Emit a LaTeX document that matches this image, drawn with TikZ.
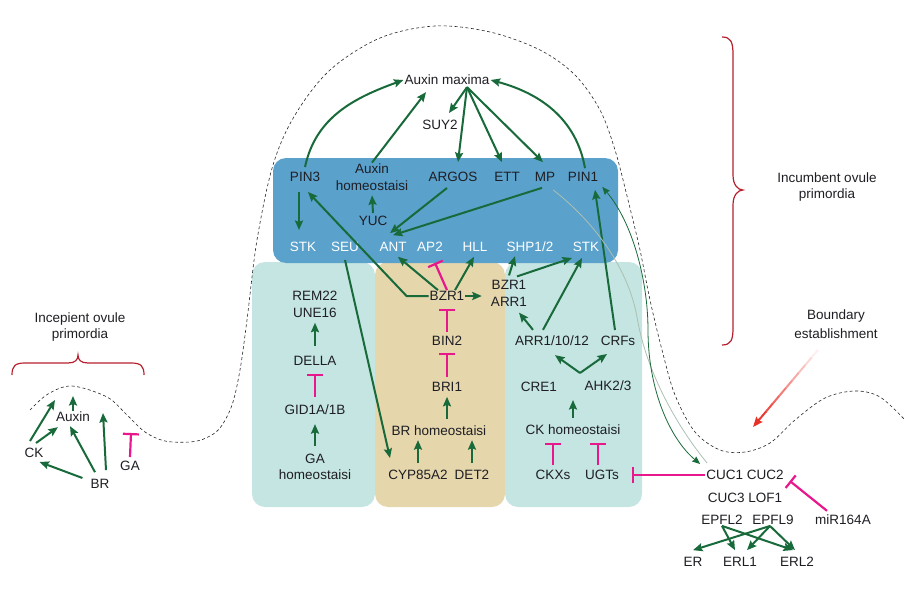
\documentclass[tikz,border=0pt]{standalone}
\usepackage{fontspec}
\setmainfont{Liberation Sans}
\usetikzlibrary{arrows.meta,calc}
\definecolor{dg}{RGB}{24,106,58}
\definecolor{mg}{RGB}{232,24,140}
\definecolor{bx}{RGB}{90,161,204}
\definecolor{tl}{RGB}{196,229,225}
\definecolor{tn}{RGB}{229,214,172}
\definecolor{rb}{RGB}{181,32,46}
\definecolor{tx}{RGB}{30,30,36}
\definecolor{ra}{RGB}{232,50,40}
\definecolor{faint}{RGB}{172,192,178}
\begin{document}
\begin{tikzpicture}[x=1pt,y=-1pt,
  lbl/.style={inner sep=1pt, text=tx, font=\fontsize{13.5}{16.5}\selectfont, align=center},
  wl/.style={lbl, text=white},
  act/.style={draw=dg, line width=2pt, -{Stealth[length=9.5pt,width=8pt,inset=1.5pt]}},
  thinact/.style={draw=dg, line width=0.8pt, {Stealth[length=8pt,width=6.5pt,inset=1pt]}-{Stealth[length=8pt,width=6.5pt,inset=1pt]}},
  inh/.style={draw=mg, line width=2.2pt, -{Bar[width=16pt]}},
  box/.style={rounded corners=13pt},
  brace/.style={draw=rb, line width=1.2pt}
]
\useasboundingbox (0,0) rectangle (922,589);

% ---- background boxes
\fill[tl, box] (252,262) rectangle (375,507);
\fill[tn, box] (375,262) rectangle (505,507);
\fill[tl, box] (505,262) rectangle (642,507);
\fill[bx, box] (273,158) rectangle (618,263);

% ---- dashed outline
\draw[black!85, line width=0.6pt, dash pattern=on 3pt off 2.5pt]
  plot[smooth, tension=0.55] coordinates {(30,410) (48,394) (72,386) (107,397) (127,415) (145,432) (165,441) (190,442) (206,438) (220,428) (232,405) (240,370) (247,320) (257,240) (273,165) (295,115) (330,70) (380,38) (435,26) (490,32) (540,50) (575,75) (600,110) (615,150) (628,200) (640,250) (650,300) (662,350) (675,395) (695,432) (720,450) (745,452) (770,443) (795,420) (825,398) (855,391) (880,397) (905,420)};

% ---- braces
\draw[brace] (12,375) .. controls (12,366) and (15,363) .. (25,363) -- (68,363)
  .. controls (75,363) and (78,360) .. (78,355) .. controls (78,360) and (81,363) .. (88,363)
  -- (131,363) .. controls (141,363) and (144,366) .. (144,375);
\draw[brace] (722,37) .. controls (731,37) and (733,42) .. (733,55) -- (733,175)
  .. controls (733,185) and (738,190) .. (743,190) .. controls (738,190) and (733,195) .. (733,205)
  -- (733,328) .. controls (733,340) and (731,345) .. (722,345);

% ---- labels
\node[lbl] (Incep) at (80,327) {Incepient ovule\\primordia};
\node[lbl] (Incumb) at (827,187) {Incumbent ovule\\primordia};
\node[lbl] (Bound) at (836,324) {Boundary\\[3pt]establishment};

% ---- left cluster
\node[lbl] (Auxin) at (73,417) {Auxin};
\node[lbl] (CK) at (34,453) {CK};
\node[lbl] (BR) at (100,484) {BR};
\node[lbl] (GA) at (130,466) {GA};
\coordinate (cku) at (55,400);
\coordinate (auxu) at (73,396);
\coordinate (bru) at (103,413);
\coordinate (gau) at (131,433);

% ---- top
\node[lbl] (AuxMax) at (447,80) {Auxin maxima};
\node[lbl] (SUY) at (440,125) {SUY2};
\node[lbl] (PINthree) at (305,177) {PIN3};
\node[lbl] (AuxHomeo) at (372,177) {Auxin\\homeostaisi};
\node[lbl] (YUC) at (373,221) {YUC};
\node[lbl] (ARGOS) at (453,177) {ARGOS};
\node[lbl] (ETT) at (507,177) {ETT};
\node[lbl] (MP) at (545,177) {MP};
\node[lbl] (PINone) at (583,177) {PIN1};
\node[wl] (STKa) at (303,247) {STK};
\node[wl] (SEU) at (345,247) {SEU};
\node[wl] (ANT) at (393,247) {ANT};
\node[wl] (APtwo) at (430,247) {AP2};
\node[wl] (HLL) at (475,247) {HLL};
\node[wl] (SHP) at (530,247) {SHP1/2};
\node[wl] (STKb) at (586,247) {STK};

% ---- left teal
\node[lbl] (REM) at (315,304.5) {REM22\\UNE16};
\node[lbl] (DELLA) at (315,361) {DELLA};
\node[lbl] (GID) at (315,410) {GID1A/1B};
\node[lbl] (GAh) at (315,467) {GA\\homeostaisi};

% ---- tan
\node[lbl] (BZRone) at (447,296) {BZR1};
\node[lbl] (BINtwo) at (447,341) {BIN2};
\node[lbl] (BRIone) at (447,387) {BRI1};
\node[lbl] (BRh) at (439,431) {BR homeostaisi};
\node[lbl] (CYP) at (418,475) {CYP85A2};
\node[lbl] (DET) at (472,475) {DET2};

% ---- right teal
\node[lbl] (BZRARR) at (509,293.5) {BZR1\\ARR1};
\node[lbl] (ARRtt) at (552,341) {ARR1/10/12};
\node[lbl] (CRFs) at (618,341) {CRFs};
\node[lbl] (CRE) at (539,387) {CRE1};
\node[lbl] (AHK) at (608,386) {AHK2/3};
\node[lbl] (CKh) at (573,430) {CK homeostaisi};
\node[lbl] (CKXs) at (553,475) {CKXs};
\node[lbl] (UGTs) at (602,475) {UGTs};
\coordinate (vv) at (580,373);
\coordinate (ckup) at (573,400);

% ---- bottom right
\node[lbl] (CUCa) at (745,475) {CUC1 CUC2};
\node[lbl] (CUCb) at (745,498) {CUC3 LOF1};
\node[lbl] (EPFLa) at (722,520) {EPFL2};
\node[lbl] (EPFLb) at (773,520) {EPFL9};
\node[lbl] (miR) at (843,520) {miR164A};
\node[lbl] (ER) at (693,562) {ER};
\node[lbl] (ERLa) at (740,562) {ERL1};
\node[lbl] (ERLb) at (797,562) {ERL2};
\coordinate (cm) at (648,330);
\coordinate (fm) at (637,317);

% ================= connectors
% left cluster
\draw[act] ([xshift=-4pt,yshift=6pt]CK.north) -- (cku);
\draw[act] ([xshift=2pt,yshift=4pt]CK.north) -- ([xshift=3pt,yshift=-4pt]Auxin.south west);
\draw[act] (Auxin.north) -- (auxu);
\draw[act] ([xshift=-5pt,yshift=6pt]BR.north) -- ([xshift=-3pt,yshift=-3pt]Auxin.south);
\draw[act] ([xshift=6pt,yshift=8pt]BR.north) -- (bru);
\draw[act] ([xshift=-7pt,yshift=6pt]BR.west) -- ([xshift=-5pt,yshift=-3pt]CK.south east);
\draw[inh] ([yshift=3pt]GA.north) -- (gau);

% auxin maxima
\draw[act] ([yshift=4pt]PINthree.north) to[out=78,in=200] (AuxMax.west);
\draw[act] ([xshift=2pt,yshift=3pt]PINone.north) to[out=100,in=-15] (AuxMax.east);
\draw[act] (AuxHomeo.north) -- ([xshift=-21pt,yshift=-6pt]AuxMax.south);
\draw[act] ([xshift=20pt,yshift=-1pt]AuxMax.south) -- ([xshift=9pt,yshift=6pt]SUY.north);
\draw[act] ([xshift=20pt,yshift=-1pt]AuxMax.south) -- ([xshift=5pt,yshift=9pt]ARGOS.north);
\draw[act] ([xshift=20pt,yshift=-1pt]AuxMax.south) -- ([xshift=-5pt,yshift=9pt]ETT.north);
\draw[act] ([xshift=20pt,yshift=-1pt]AuxMax.south) -- ([xshift=-2pt,yshift=9pt]MP.north);

% blue box
\draw[act] ([xshift=-6pt,yshift=-9pt]PINthree.south) -- ([xshift=-4pt,yshift=11pt]STKa.north);
\draw[act] ([yshift=2pt]YUC.north) -- ([yshift=-4pt]AuxHomeo.south);
\draw[act] ([xshift=-6pt,yshift=-5pt]ARGOS.south) -- ([xshift=-3pt,yshift=8pt]ANT.north);
\draw[act] ([xshift=-3pt,yshift=-5pt]MP.south) -- ([yshift=6pt]ANT.north);

% BZR1
\draw[act] (BZRone.west) -- ++(-22,0) -- ([xshift=3pt,yshift=-9pt]PINthree.south);
\draw[act] ([xshift=-9pt]BZRone.north) -- ([xshift=5pt,yshift=-4pt]ANT.south);
\draw[inh] (BZRone.north) -- ([xshift=5pt,yshift=-10pt]APtwo.south);
\draw[act] ([xshift=8pt]BZRone.north) -- ([xshift=-1pt,yshift=-4pt]HLL.south);
\draw[act, shorten >=8pt] (BZRone.east) -- (BZRone.east -| BZRARR.west);
\draw[act] ([yshift=4pt]BZRARR.north) -- ([xshift=-15pt,yshift=-3pt]SHP.south);
\draw[act] ([xshift=8pt,yshift=3pt]BZRARR.north) -- ([xshift=-14pt,yshift=-5pt]STKb.south);

% cytokinin
\draw[act] ([xshift=-19pt,yshift=5pt]ARRtt.north) -- ([xshift=10pt,yshift=-5pt]BZRARR.south);
\draw[act] ([xshift=-9pt,yshift=5pt]ARRtt.north) -- ([xshift=-4pt,yshift=-5pt]STKb.south);
\draw[act] ([xshift=-3pt,yshift=5pt]CRFs.north) -- ([xshift=12pt,yshift=-7pt]PINone.south);
\draw[act] (vv) -- ([xshift=3pt,yshift=-8pt]ARRtt.south);
\draw[act] (vv) -- ([xshift=-11pt,yshift=-7pt]CRFs.south);
\draw[act] ([yshift=6pt]CKh.north) -- (ckup);
\draw[inh] ([yshift=4pt]CKXs.north) -- ++(0,-22);
\draw[inh] ([xshift=-4pt,yshift=4pt]UGTs.north) -- ++(0,-22);

% GA column
\draw[act, shorten <=7pt, shorten >=8pt] (GAh.north) -- (GID.south);
\draw[inh, shorten <=7pt, shorten >=7pt] (GID.north) -- (DELLA.south);
\draw[act, shorten <=9pt, shorten >=4pt] (DELLA.north) -- (REM.south);
\draw[act] ([yshift=-7pt]SEU.south) -- ([xshift=-28pt,yshift=11pt]CYP.north);

% BR column
\draw[inh, shorten <=3pt, shorten >=7pt] (BINtwo.north) -- (BZRone.south);
\draw[inh, shorten <=4pt, shorten >=6pt] (BRIone.north) -- (BINtwo.south);
\draw[act, shorten <=6pt, shorten >=4pt] (BRIone |- BRh.north) -- (BRIone.south);
\draw[act, shorten <=6pt, shorten >=3pt] (CYP.north) -- (CYP.north |- BRh.south);
\draw[act, shorten <=6pt, shorten >=3pt] (DET.north) -- (DET.north |- BRh.south);

% boundary links
\draw[faint, line width=0.8pt] ([xshift=8pt,yshift=-7pt]MP.south) .. controls +(45,35) and +(-8,-45) .. (fm)
  .. controls +(10,60) and +(-25,-30) .. ([xshift=2pt,yshift=6pt]CUCa.north west);
\draw[thinact] ([xshift=3pt,yshift=-4pt]PINone.south east) .. controls +(30,35) and +(0,-50) .. (cm)
  .. controls +(0,60) and +(-30,-25) .. ([xshift=-5pt,yshift=5pt]CUCa.north west);
\draw[inh] (CUCa.west) -- ([xshift=12pt]UGTs.east);
\draw[inh] ([xshift=-16pt,yshift=3pt]miR.north) -- ([xshift=5pt]CUCa.south east);

% EPFL
\draw[act] (EPFLa.south) -- ([xshift=-5pt,yshift=6pt]ERLa.north);
\draw[act] (EPFLa.south) -- ([xshift=-4pt,yshift=6pt]ERLb.north);
\draw[act] ([xshift=-3pt]EPFLb.south) -- ([yshift=6pt]ER.north);
\draw[act] ([xshift=-3pt]EPFLb.south) -- ([xshift=7pt,yshift=6pt]ERLa.north);
\draw[act] ([xshift=-3pt]EPFLb.south) -- ([xshift=-2pt,yshift=6pt]ERLb.north);

% boundary establishment gradient arrow
\coordinate (ba1) at ([xshift=-18pt,yshift=-10pt]Bound.south);
\coordinate (ba2) at (753,427);
\foreach \i in {0,...,8}{
  \pgfmathtruncatemacro\rr{8+11*\i}
  \draw[line width=2pt, color=ra!\rr!white] ($(ba1)!{\i/10}!(ba2)$) -- ($(ba1)!{(\i+1.05)/10}!(ba2)$);
}
\draw[line width=2pt, ra, -{Stealth[length=10pt,width=8pt,inset=1.5pt]}] ($(ba1)!0.9!(ba2)$) -- (ba2);
\end{tikzpicture}
\end{document}
